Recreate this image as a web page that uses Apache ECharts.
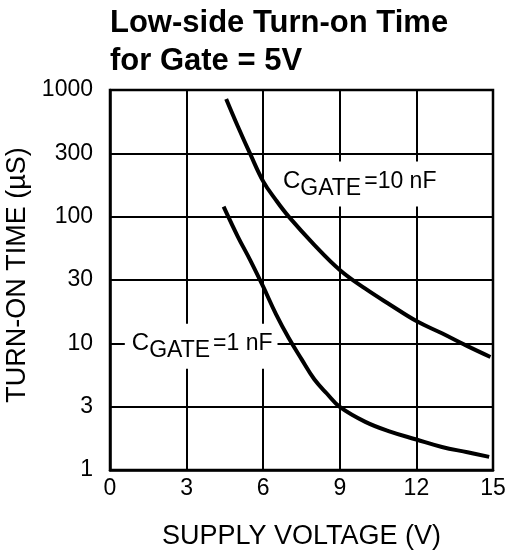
<!DOCTYPE html>
<html><head><meta charset="utf-8">
<script src="https://cdn.jsdelivr.net/npm/echarts@6/dist/echarts.min.js"></script>
<style>html,body{margin:0;padding:0;background:#fff}#c{width:513px;height:552px}</style>
</head><body><div id="c"></div>
<script>
var titleText = 'Low-side Turn-on Time\nfor Gate = 5V';
var xName = 'SUPPLY VOLTAGE (V)';
var yName = 'TURN-ON TIME (\u00b5S)';
var yTickLabels = ['1','3','10','30','100','300','1000'];
var xTicks = [0,3,6,9,12,15];
var v10nF = [4.55,5.0,5.5,6.0,6.5,7.0,8.0,9.0,10.0,11.0,12.0,13.0,14.0,14.9];
var t10nF = [850,520,310,190,135,100,60,38,27,20,15,12,9.5,7.8];
var v1nF = [4.45,5.0,5.5,6.0,6.5,7.0,7.5,8.0,8.5,9.0,10.0,11.0,12.0,13.0,14.0,14.85];
var t1nF = [120,70,45,28,17,11,7.5,5.2,4.0,3.15,2.4,2.0,1.74,1.52,1.38,1.27];
var label10 = {x:6.5, y:181, parts:['C','GATE','=10 nF']};
var label1 = {x:0.58, y:9.5, parts:['C','GATE','=1 nF']};

function pairs(xs, ys){ return xs.map(function(x,i){return [x, ys[i]];}); }
var base = Math.sqrt(10);
var chart = echarts.init(document.getElementById('c'), null, {renderer:'canvas'});
var F = 'Liberation Sans, Arial, Helvetica, sans-serif';
var rich = {
  c:{fontSize:24, fontFamily:F, color:'#000', lineHeight:28},
  s:{fontSize:23, fontFamily:F, color:'#000', padding:[15,0,0,0], lineHeight:28},
  e:{fontSize:23, fontFamily:F, color:'#000', padding:[0,0,0,3], lineHeight:28}
};
function lab(p){ return '{c|'+p.parts[0]+'}{s|'+p.parts[1]+'}{e|'+p.parts[2]+'}'; }
function markLabel(p){
  return {symbol:'rect', symbolSize:0, z:2, data:[{coord:[p.x,p.y]}],
    label:{show:true, position:'right', distance:0, formatter:lab(p), rich:rich,
      backgroundColor:'#fff', padding:[6,5,11,7]}};
}
chart.setOption({
  animation:false,
  title:{text:titleText, left:110, top:4, padding:0,
    textStyle:{fontSize:31, fontWeight:'bold', fontFamily:F, color:'#000', lineHeight:38}},
  grid:{left:110, right:20, top:90, bottom:82, containLabel:false, outerBoundsMode:'none',
    show:true, borderColor:'#000', borderWidth:2.5, backgroundColor:'transparent'},
  xAxis:{type:'value', min:0, max:15, interval:3, name:xName, nameLocation:'middle', nameGap:53,
    nameTextStyle:{fontSize:27, fontFamily:F, color:'#000'},
    axisLine:{show:true, lineStyle:{color:'#000', width:2.5}}, axisTick:{show:false},
    axisLabel:{fontSize:23, fontFamily:F, color:'#000', margin:7},
    splitLine:{show:true, lineStyle:{color:'#000', width:2}}},
  yAxis:{type:'log', logBase:base, min:1, max:1000, name:yName, nameLocation:'middle', nameGap:69,
    nameTextStyle:{fontSize:27, fontFamily:F, color:'#000', padding:[0,0,0,10]},
    axisLine:{show:true, lineStyle:{color:'#000', width:2.5}}, axisTick:{show:false},
    axisLabel:{fontSize:23, fontFamily:F, color:'#000', margin:17,
      formatter:function(v){ var i=Math.round(Math.log(v)/Math.log(base)); return yTickLabels[i]||''; }},
    splitLine:{show:true, lineStyle:{color:'#000', width:2}}},
  series:[
    {type:'line', data:pairs(v10nF,t10nF), smooth:0.4, symbol:'none', lineStyle:{color:'#000', width:4}, z:3,
      markPoint:markLabel(label10)},
    {type:'line', data:pairs(v1nF,t1nF), smooth:0.4, symbol:'none', lineStyle:{color:'#000', width:4}, z:3,
      markPoint:markLabel(label1)}
  ]
});
</script></body></html>
